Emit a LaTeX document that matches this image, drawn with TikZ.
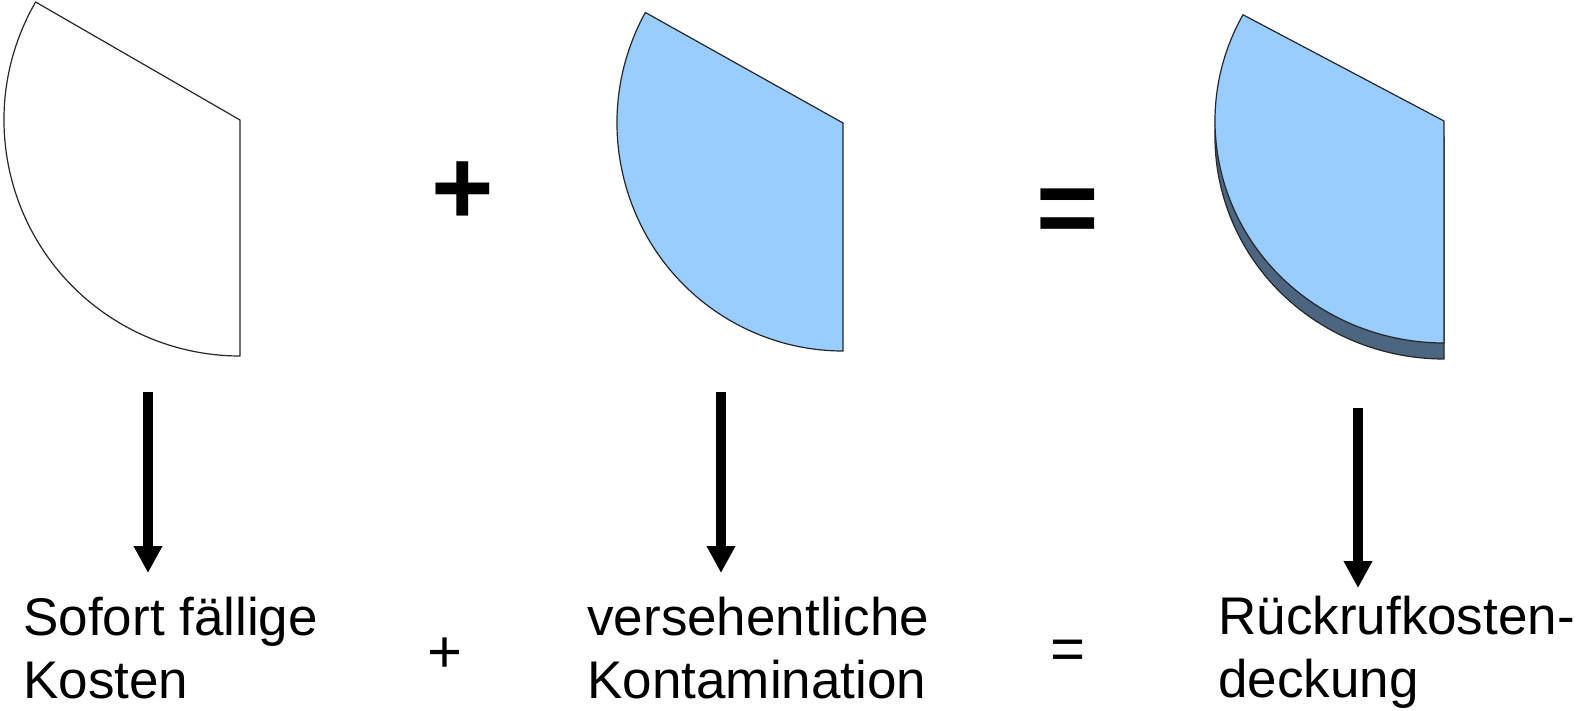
\documentclass[tikz,border=0pt]{standalone}
\usepackage{fontspec}
\setmainfont{Liberation Sans}
\usetikzlibrary{arrows.meta}
\definecolor{pieblue}{RGB}{153,204,255}
\definecolor{pieshadow}{RGB}{76,101,128}
\begin{document}
\begin{tikzpicture}[x=0.5pt,y=0.5pt,
  pie/.style={draw=black!85, line width=0.6pt, line join=round},
  down/.style={line width=4.7pt, -{Triangle[width=13.5pt,length=13.5pt]}},
  lbl/.style={font=\fontsize{26.5}{31.5}\selectfont, align=left, anchor=base west, inner sep=0pt},
  bigop/.style={font=\fontsize{53.5}{60}\selectfont\bfseries, inner sep=0pt, anchor=base},
  smallop/.style={font=\fontsize{30}{36}\selectfont, inner sep=0pt},
]
\useasboundingbox (0,0) rectangle (1578,-711);
% pie pieces
\path[pie, fill=white] (240,-120) coordinate (c1) -- ++(150:236) arc[start angle=150, end angle=270, radius=236] -- cycle;
\path[pie, fill=pieblue] (843,-123) coordinate (c2) -- ++(151:226 and 228) arc[start angle=151, end angle=270, x radius=226, y radius=228] -- cycle;
\path[pie, fill=pieshadow] (1444,-137) -- ++(151.4:229 and 222) arc[start angle=151.4, end angle=270, x radius=229, y radius=222] -- cycle;
\path[pie, fill=pieblue] (1444,-121) coordinate (c3) -- ++(151.4:229 and 222) arc[start angle=151.4, end angle=270, x radius=229, y radius=222] -- cycle;
% operators
\node[bigop] (p1) at (463,-225) {+};
\node[bigop] (e1) at (1068,-244) {=};
% arrows
\coordinate (a1s) at (148,-392); \coordinate (a1e) at (148,-573);
\coordinate (a2s) at (721,-392); \coordinate (a2e) at (721,-573);
\coordinate (a3s) at (1358,-408); \coordinate (a3e) at (1358,-588);
\draw[down] (a1s) -- (a1e);
\draw[down] (a2s) -- (a2e);
\draw[down] (a3s) -- (a3e);
% labels (base anchor = baseline of the last line)
\node[lbl] (t1) at (23,-698) {Sofort fällige\\Kosten};
\node[lbl] (t2) at (587,-698) {versehentliche\\Kontamination};
\node[lbl] (t3) at (1218,-697) {Rückrufkosten-\\deckung};
\node[smallop] (p2) at (445,-655) {+};
\node[smallop] (e2) at (1068,-655) {=};
\end{tikzpicture}
\end{document}
